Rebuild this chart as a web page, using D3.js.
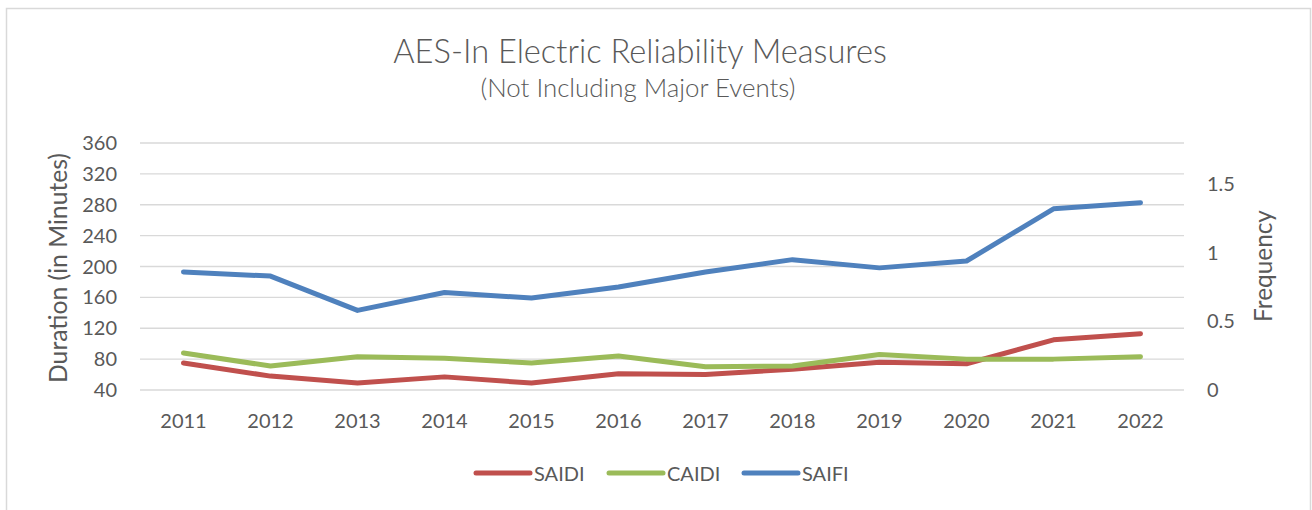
<!DOCTYPE html>
<html>
<head>
<meta charset="utf-8">
<script src="https://cdn.jsdelivr.net/npm/d3@7"></script>
<style>
  html, body { margin: 0; padding: 0; background: #fff; }
  svg { display: block; font-family: Lato, "Open Sans", sans-serif; }
</style>
</head>
<body>
<svg id="chart" width="1312" height="510"></svg>
<script>
const years = ["2011","2012","2013","2014","2015","2016","2017","2018","2019","2020","2021","2022"];
const saidi = [75, 58, 49, 57, 49, 61, 60, 67, 76, 74, 105, 113];
const caidi = [88, 71, 83, 81, 75, 84, 70, 71, 86, 80, 80, 83];
const saifi = [0.86, 0.83, 0.58, 0.71, 0.67, 0.75, 0.86, 0.95, 0.89, 0.94, 1.32, 1.365];
const leftTicks = [40, 80, 120, 160, 200, 240, 280, 320, 360];
const rightTicks = [0, 0.5, 1, 1.5];
const seriesNames = ["SAIDI", "CAIDI", "SAIFI"];
const seriesColors = ["#C0504D", "#9BBB59", "#4F81BD"];

const svg = d3.select("#chart");
const textColor = "#595959";
const gridColor = "#D9D9D9";

// chart border
svg.append("rect").attr("x", 6.5).attr("y", 8.5).attr("width", 1304).attr("height", 520)
  .attr("fill", "none").attr("stroke", gridColor).attr("stroke-width", 1.5);

const x = d3.scalePoint().domain(years).range([140, 1184]).padding(0.5);
const yL = d3.scaleLinear().domain([40, 360]).range([390, 143]);
const yR = d3.scaleLinear().domain([0, 1.8]).range([390, 143]);

// gridlines
svg.append("g").selectAll("line").data(leftTicks).join("line")
  .attr("x1", 140).attr("x2", 1184)
  .attr("y1", d => yL(d)).attr("y2", d => yL(d))
  .attr("stroke", gridColor).attr("stroke-width", 1.3);

// left axis labels
svg.append("g").selectAll("text").data(leftTicks).join("text")
  .attr("x", 117).attr("y", d => yL(d)).attr("dy", "0.35em")
  .attr("text-anchor", "end").attr("font-size", 20).attr("fill", textColor)
  .text(d => d);

// right axis labels
svg.append("g").selectAll("text").data(rightTicks).join("text")
  .attr("x", 1207).attr("y", d => yR(d)).attr("dy", "0.35em")
  .attr("text-anchor", "start").attr("font-size", 20).attr("fill", textColor)
  .text(d => d);

// x labels
svg.append("g").selectAll("text").data(years).join("text")
  .attr("x", d => x(d)).attr("y", 428)
  .attr("text-anchor", "middle").attr("font-size", 20).attr("fill", textColor)
  .text(d => d);

function fitText(sel, target) {
  const node = sel.node();
  const fs = parseFloat(sel.attr("font-size"));
  const w = node.getComputedTextLength();
  if (w > 0) sel.attr("font-size", fs * target / w);
}

// titles
const t1 = svg.append("text").attr("x", 640).attr("y", 63).attr("text-anchor", "middle")
  .attr("font-size", 30).attr("font-weight", 300).attr("fill", textColor)
  .text("AES-In Electric Reliability Measures");
fitText(t1, 494);
const t2 = svg.append("text").attr("x", 638).attr("y", 97).attr("text-anchor", "middle")
  .attr("font-size", 21).attr("font-weight", 300).attr("fill", textColor)
  .text("(Not Including Major Events)");
fitText(t2, 315);

// axis titles
const a1 = svg.append("text").attr("transform", "translate(67,268) rotate(-90)")
  .attr("text-anchor", "middle").attr("font-size", 22).attr("fill", textColor)
  .text("Duration (in Minutes)");
fitText(a1, 230);
const a2 = svg.append("text").attr("transform", "translate(1272,266) rotate(-90)")
  .attr("text-anchor", "middle").attr("font-size", 22).attr("fill", textColor)
  .text("Frequency");
fitText(a2, 112);

// lines
const lineL = d3.line().x((d, i) => x(years[i])).y(d => yL(d));
const lineR = d3.line().x((d, i) => x(years[i])).y(d => yR(d));
const seriesData = [
  { name: seriesNames[0], values: saidi, gen: lineL, color: seriesColors[0] },
  { name: seriesNames[1], values: caidi, gen: lineL, color: seriesColors[1] },
  { name: seriesNames[2], values: saifi, gen: lineR, color: seriesColors[2] }
];
svg.append("g").selectAll("path").data(seriesData).join("path")
  .attr("d", d => d.gen(d.values))
  .attr("fill", "none").attr("stroke", d => d.color).attr("stroke-width", 5)
  .attr("stroke-linecap", "round").attr("stroke-linejoin", "round");

// legend
const legendX = [475, 608, 743];
const lg = svg.append("g").selectAll("g").data(seriesData).join("g")
  .attr("transform", (d, i) => `translate(${legendX[i]},473)`);
lg.append("line").attr("x1", 1).attr("x2", 55).attr("y1", 0).attr("y2", 0)
  .attr("stroke", d => d.color).attr("stroke-width", 5).attr("stroke-linecap", "round");
lg.append("text").attr("x", 59).attr("y", 8).attr("font-size", 20).attr("fill", textColor)
  .text(d => d.name);
</script>
</body>
</html>
